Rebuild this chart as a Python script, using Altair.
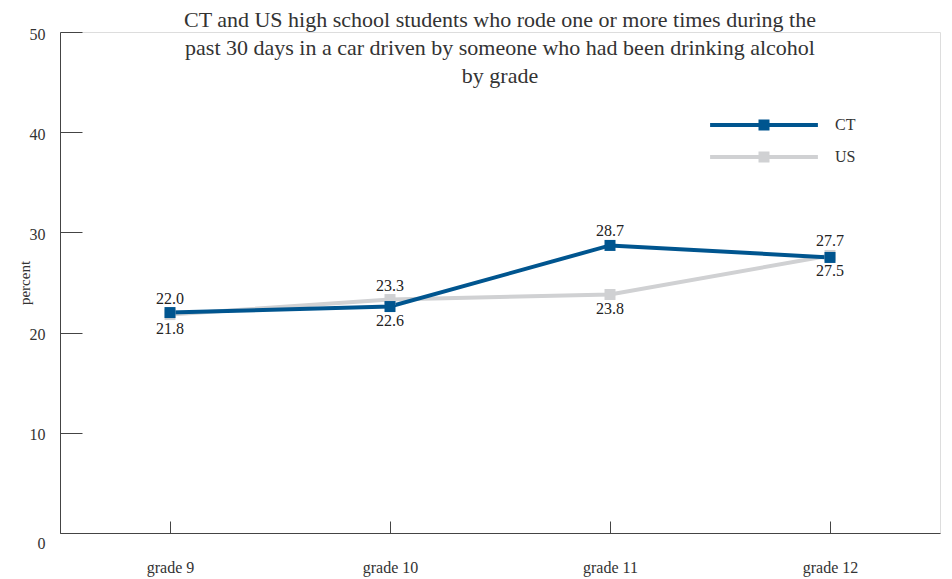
import altair as alt
import pandas as pd

grades = ["grade 9", "grade 10", "grade 11", "grade 12"]
ct_values = [22.0, 22.6, 28.7, 27.5]
us_values = [21.8, 23.3, 23.8, 27.7]
series_names = ["CT", "US"]
series_colors = ["#00558F", "#D0D1D3"]
y_ticks = [0, 10, 20, 30, 40, 50]
title_lines = [
    "CT and US high school students who rode one or more times during the",
    "past 30 days in a car driven by someone who had been drinking alcohol",
    "by grade",
]

rows = []
for i, g in enumerate(grades):
    rows.append({"grade": g, "idx": i, "series": "US", "value": us_values[i],
                 "above": us_values[i] > ct_values[i]})
for i, g in enumerate(grades):
    rows.append({"grade": g, "idx": i, "series": "CT", "value": ct_values[i],
                 "above": ct_values[i] >= us_values[i]})
df = pd.DataFrame(rows)
df["label"] = df["value"].map(lambda v: f"{v:.1f}")

FONT = "Liberation Serif"
TXT = "#333333"

legend_path = ("M-4.9,0H4.9"
               "M-0.318,-0.318H0.318V0.318H-0.318Z"
               "M-0.136,-0.136H0.136V0.136H-0.136Z")

x_enc = alt.X(
    "grade:N", sort=grades,
    scale=alt.Scale(padding=0.5),
    axis=alt.Axis(title=None, labelAngle=0, labelFont=FONT, labelFontSize=16,
                  labelColor=TXT, tickSize={"expr": "-12"}, labelPadding=38,
                  domainColor="#444444", tickColor="#444444", labelBaseline="top"),
)
y_enc = alt.Y(
    "value:Q",
    scale=alt.Scale(domain=[0, 50], nice=False),
    axis=alt.Axis(values=y_ticks, title="percent", titleFont=FONT, titleFontSize=15,
                  titleFontWeight="normal", titleColor=TXT,
                  titleX=-36, titleY=250.5, titleBaseline="middle", titleAlign="center",
                  titleAngle=270,
                  labelFont=FONT, labelFontSize=16, labelColor=TXT,
                  tickSize={"expr": "-22"}, labelPadding=37,
                  labelOffset={"condition": {"test": "datum.value == 0", "value": 10}, "value": 2},
                  domainColor="#444444", tickColor="#444444", grid=False),
)
color_enc = alt.Color(
    "series:N",
    scale=alt.Scale(domain=series_names, range=series_colors),
    legend=alt.Legend(title=None, orient="none", legendX=691, legendY=80,
                      symbolType=legend_path, symbolSize=484, symbolStrokeWidth=4,
                      labelFont=FONT, labelFontSize=16, labelColor=TXT,
                      labelOffset=58, rowPadding=7, padding=0),
)

base = alt.Chart(df)

lines = base.mark_line(strokeWidth=4).encode(
    x=x_enc, y=y_enc, color=color_enc, order=alt.Order("idx:Q"))
points = base.mark_point(shape="square", filled=True, size=121, opacity=1).encode(
    x=x_enc, y=y_enc, color=color_enc)
labels_above = base.transform_filter("datum.above").mark_text(
    font=FONT, fontSize=16, color="#222222", dy=-14).encode(
    x=x_enc, y=y_enc, text="label:N")
labels_below = base.transform_filter("!datum.above").mark_text(
    font=FONT, fontSize=16, color="#222222", dy=14).encode(
    x=x_enc, y=y_enc, text="label:N")

chart = alt.layer(lines, points, labels_above, labels_below).properties(
    width=880, height=501,
    title=alt.TitleParams(text=title_lines, font=FONT, fontSize=22, fontWeight="normal",
                          color=TXT, anchor="middle", baseline="top", offset=-62,
                          lineHeight=28, frame="group"),
    autosize=alt.AutoSizeParams(type="none"),
    padding={"left": 52, "top": 24, "right": 4, "bottom": 50},
).configure_view(strokeWidth=0).configure(background="white")

chart.save("out.html", embed_options={"renderer": "svg", "actions": False})
